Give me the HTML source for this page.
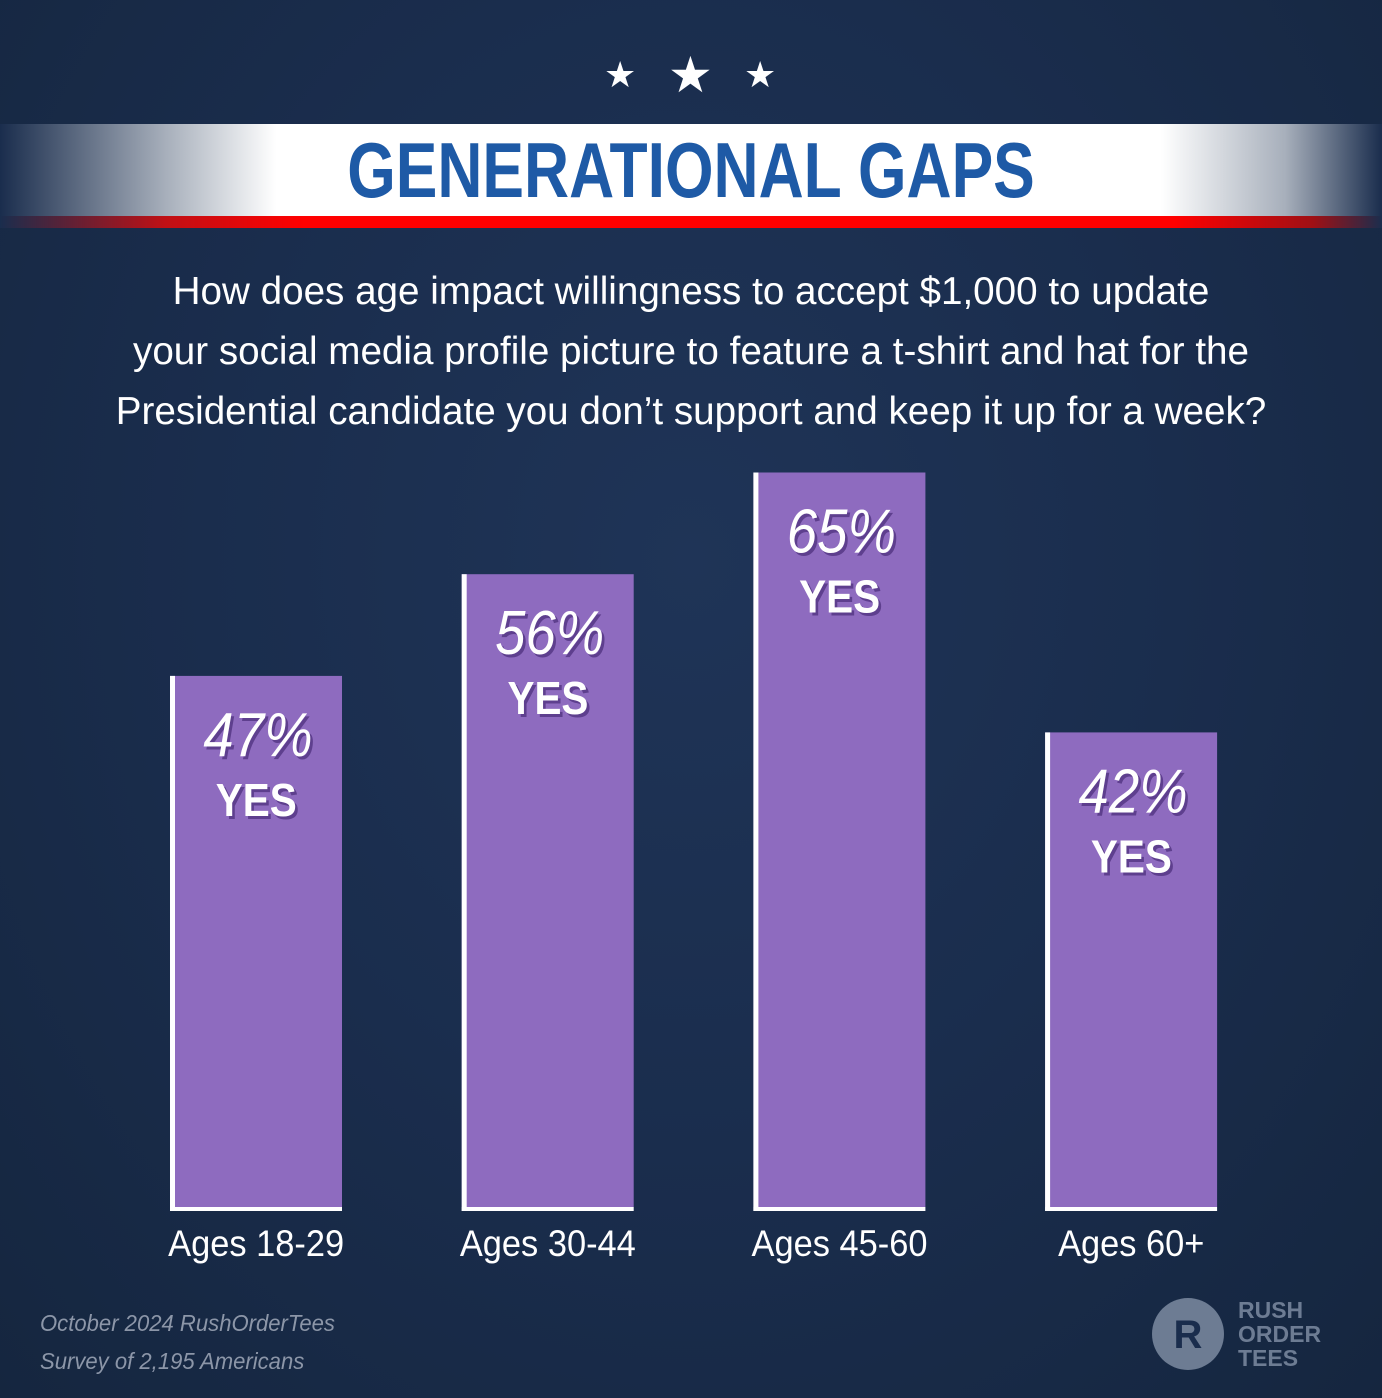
<!DOCTYPE html>
<html><head><meta charset="utf-8"><style>
html,body{margin:0;padding:0}
body{width:1382px;height:1398px;overflow:hidden;font-family:"Liberation Sans",sans-serif;
background:radial-gradient(ellipse at 50% 40%,#1f3457 0%,#1a2d4d 50%,#15263f 100%);position:relative}
.abs{position:absolute}
.band{left:0;top:124px;width:1382px;height:92px;background:linear-gradient(90deg,#1a2d4d 0%,#a7afbb 12%,#fff 20%,#fff 84%,#a7afbb 93%,#1a2d4d 100%)}
.red{left:0;top:216px;width:1382px;height:12px;background:linear-gradient(90deg,#1a2d4d 0%,#c01015 12%,#f00 22%,#f00 85%,#a01015 95%,#1a2d4d 100%)}
.title{left:0;top:124px;width:1382px;text-align:center;line-height:92px;font-weight:bold;font-size:78px;color:#1e5aa6;transform:scaleX(0.8)}
.q{left:0;top:262px;width:1382px;text-align:center;color:#fff;font-size:39px;line-height:60px;transform:scaleX(0.99)}
.star{color:#fff;font-size:40px;top:48px}
.foot{left:40px;top:1304px;color:#8c96a8;font-style:italic;font-size:23px;line-height:38px;transform:scaleX(0.96);transform-origin:left}
</style></head><body>
<div class="abs star" style="left:604px;top:54px;font-size:36px">★</div>
<div class="abs star" style="left:668px;top:46px;font-size:50px">★</div>
<div class="abs star" style="left:744px;top:54px;font-size:36px">★</div>
<div class="abs band"></div>
<div class="abs red"></div>
<div class="abs title">GENERATIONAL GAPS</div>
<div class="abs q">How does age impact willingness to accept $1,000 to update<br>your social media profile picture to feature a t-shirt and hat for the<br>Presidential candidate you don’t support and keep it up for a week?</div>
<svg class="abs" style="left:0;top:0" width="1382" height="1398" id="chart"></svg>
<div class="abs foot">October 2024 RushOrderTees<br>Survey of 2,195 Americans</div>
<svg class="abs" style="left:1150px;top:1296px" width="200" height="80">
<circle cx="38" cy="38" r="36" fill="#6d7c93"/>
<text x="38" y="52" text-anchor="middle" font-family="Liberation Sans" font-weight="bold" font-size="40" fill="#1a2d4d">R</text>
<text x="88" y="22" font-family="Liberation Sans" font-weight="bold" font-size="23" fill="#6d7c93">RUSH</text>
<text x="88" y="46" font-family="Liberation Sans" font-weight="bold" font-size="23" fill="#6d7c93">ORDER</text>
<text x="88" y="70" font-family="Liberation Sans" font-weight="bold" font-size="23" fill="#6d7c93">TEES</text>
</svg>
<script>
const categories=["Ages 18-29","Ages 30-44","Ages 45-60","Ages 60+"];
const values=[47,56,65,42];
const ns="http://www.w3.org/2000/svg";
const svg=document.getElementById("chart");
const baseY=1207, pxPer=11.3, x0=170, step=291.7, bw=172;
function xPos(i){return x0+i*step;}
function yPos(v){return baseY-v*pxPer;}
function mk(t,a){const e=document.createElementNS(ns,t);for(const k in a)e.setAttribute(k,a[k]);svg.appendChild(e);return e;}
values.forEach((v,i)=>{
  const x=xPos(i),y=yPos(v);
  const r=mk("rect",{x:x,y:y,width:bw,height:baseY-y,fill:"#8e6bbf"});
  
  
  const l=mk("rect",{x:x,y:y,width:5,height:baseY-y+4,fill:"#fff"});
  
  
  const b=mk("rect",{x:x,y:baseY,width:bw,height:4,fill:"#fff"});
  
  
  const cx=x+bw/2+2;
  [[3,"#5e3f8e"],[0,"#fff"]].forEach(([o,c])=>{
    const p=mk("text",{x:cx+o,y:y+80+o,"text-anchor":"middle","font-size":62,"font-style":"italic","font-family":"Liberation Sans",fill:c,transform:`translate(${cx} 0) scale(0.88 1) translate(${-cx} 0)`});
    p.textContent=v+"%";
    
    
    const ye=mk("text",{x:cx-2+o,y:y+140+o,"text-anchor":"middle","font-size":46,"font-weight":"bold","font-family":"Liberation Sans",fill:c,transform:`translate(${cx} 0) scale(0.88 1) translate(${-cx} 0)`});
    ye.textContent="YES";
    
    
  });
  const t=mk("text",{x:cx-2,y:1256,"text-anchor":"middle","font-size":37,"font-family":"Liberation Sans",fill:"#fff",transform:`translate(${cx} 0) scale(0.93 1) translate(${-cx} 0)`});
  t.textContent=categories[i];
  
  
});
</script>
</body></html>
